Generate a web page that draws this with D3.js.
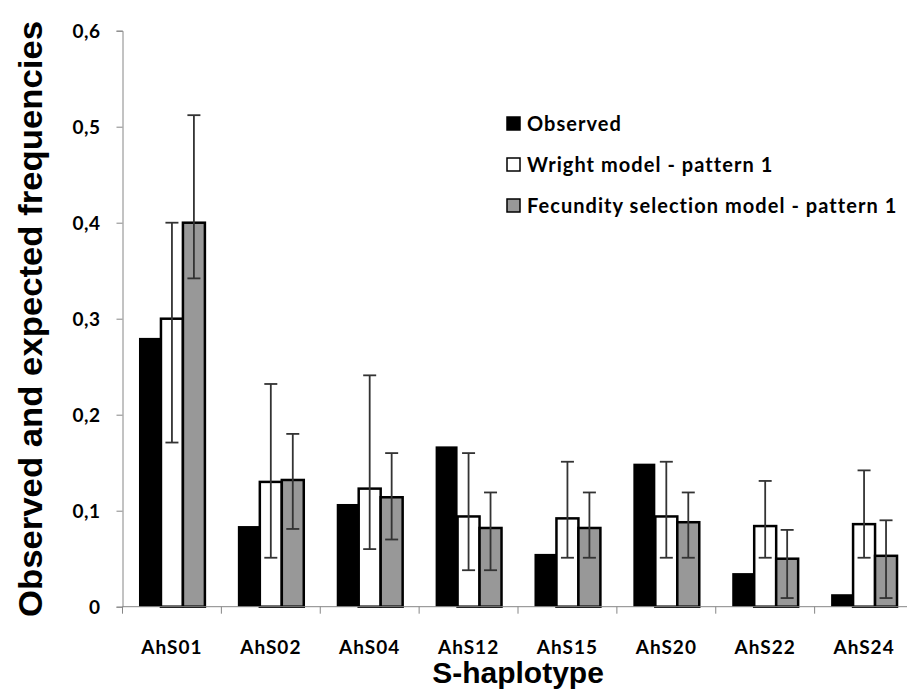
<!DOCTYPE html>
<html>
<head>
<meta charset="utf-8">
<script src="https://cdn.jsdelivr.net/npm/d3@7"></script>
<style>
  body { margin: 0; background: #fff; }
  .tick-label { font-family: Lato, "Open Sans", sans-serif; font-weight: 700; fill: #000; }
  .axis-title { font-family: "Liberation Sans", Arial, sans-serif; font-weight: 700; fill: #000; }
</style>
</head>
<body>
<div id="chart"></div>
<script>
// categories and series
const haplotypes = ['AhS01', 'AhS02', 'AhS04', 'AhS12', 'AhS15', 'AhS20', 'AhS22', 'AhS24'];
const seriesNames = ['Observed', 'Wright model - pattern 1', 'Fecundity selection model - pattern 1'];
const observed = [0.28, 0.084, 0.107, 0.167, 0.055, 0.149, 0.035, 0.013];
const wright = [0.30, 0.13, 0.123, 0.094, 0.092, 0.094, 0.084, 0.086];
const wrightLow = [0.171, 0.051, 0.060, 0.038, 0.051, 0.051, 0.051, 0.051];
const wrightHigh = [0.40, 0.232, 0.241, 0.160, 0.151, 0.151, 0.131, 0.142];
const fecundity = [0.40, 0.132, 0.114, 0.082, 0.082, 0.088, 0.050, 0.053];
const fecundityLow = [0.342, 0.081, 0.070, 0.038, 0.051, 0.051, 0.009, 0.009];
const fecundityHigh = [0.512, 0.180, 0.160, 0.119, 0.119, 0.119, 0.080, 0.090];
const yTicks = [0, 0.1, 0.2, 0.3, 0.4, 0.5, 0.6];

const width = 907, height = 699;
const plotLeft = 122.5, plotRight = 913.5, plotTop = 30.7, plotBottom = 606.7;

const svg = d3.select('#chart').append('svg')
  .attr('width', width)
  .attr('height', height);

// one band per haplotype, bars grouped in the middle two thirds
const x = d3.scaleBand().domain(haplotypes).range([plotLeft, plotRight]).padding(0);
const step = x.bandwidth();
const xInner = d3.scaleBand().domain(seriesNames)
  .range([step / 6, step * 5 / 6]).padding(0);
const y = d3.scaleLinear().domain([0, 0.6]).range([plotBottom, plotTop]);

const fills = ['#000000', '#ffffff', '#989898'];
const strokes = ['none', '#000', '#000'];

// table built from the arrays
const rows = haplotypes.map((h, i) => ({
  h,
  bars: [
    { s: seriesNames[0], v: observed[i] },
    { s: seriesNames[1], v: wright[i], lo: wrightLow[i], hi: wrightHigh[i] },
    { s: seriesNames[2], v: fecundity[i], lo: fecundityLow[i], hi: fecundityHigh[i] }
  ]
}));

// y axis
const yAxis = svg.append('g')
  .attr('transform', `translate(${plotLeft},0)`)
  .call(d3.axisLeft(y).tickValues(yTicks).tickSize(6).tickPadding(16)
    .tickFormat(d => d === 0 ? '0' : d3.format('.1f')(d).replace('.', ',')));
yAxis.select('.domain').attr('stroke', '#868686');
yAxis.selectAll('.tick line').attr('stroke', '#868686');
yAxis.selectAll('.tick text')
  .attr('class', 'tick-label')
  .style('font-size', '19px')
  .style('letter-spacing', '0.5px')
  .attr('dy', '0.35em');

// groups of bars
const groups = svg.append('g').selectAll('g')
  .data(rows)
  .join('g')
  .attr('transform', d => `translate(${x(d.h)},0)`);

groups.selectAll('rect')
  .data(d => d.bars)
  .join('rect')
  .attr('x', d => xInner(d.s))
  .attr('y', d => y(d.v))
  .attr('width', xInner.bandwidth())
  .attr('height', d => y(0) - y(d.v))
  .attr('fill', (d, i) => fills[i])
  .attr('stroke', (d, i) => strokes[i])
  .attr('stroke-width', 2.5);

// error bars
const errs = groups.selectAll('g.err')
  .data(d => d.bars.filter(b => b.lo !== undefined))
  .join('g')
  .attr('class', 'err')
  .attr('stroke', '#333')
  .attr('stroke-width', 1.8);
errs.append('line')
  .attr('x1', d => xInner(d.s) + xInner.bandwidth() / 2)
  .attr('x2', d => xInner(d.s) + xInner.bandwidth() / 2)
  .attr('y1', d => y(d.lo))
  .attr('y2', d => y(d.hi));
['lo', 'hi'].forEach(k => {
  errs.append('line')
    .attr('x1', d => xInner(d.s) + xInner.bandwidth() / 2 - 6.5)
    .attr('x2', d => xInner(d.s) + xInner.bandwidth() / 2 + 6.5)
    .attr('y1', d => y(d[k]))
    .attr('y2', d => y(d[k]));
});

// x axis: baseline, ticks at category boundaries, labels centred
const xAxis = svg.append('g');
xAxis.append('line')
  .attr('x1', plotLeft).attr('x2', width)
  .attr('y1', plotBottom).attr('y2', plotBottom)
  .attr('stroke', '#868686');
xAxis.selectAll('line.bound')
  .data(haplotypes)
  .join('line')
  .attr('class', 'bound')
  .attr('x1', d => x(d)).attr('x2', d => x(d))
  .attr('y1', plotBottom).attr('y2', plotBottom + 7)
  .attr('stroke', '#868686');
xAxis.selectAll('text')
  .data(haplotypes)
  .join('text')
  .attr('class', 'tick-label')
  .attr('x', d => x(d) + step / 2)
  .attr('y', 654)
  .attr('text-anchor', 'middle')
  .style('font-size', '19px')
  .style('letter-spacing', '1px')
  .text(d => d);

// axis titles
svg.append('text')
  .attr('class', 'axis-title')
  .attr('x', (plotLeft + plotRight) / 2)
  .attr('y', 683)
  .attr('text-anchor', 'middle')
  .style('font-size', '30px')
  .text('S-haplotype');

svg.append('text')
  .attr('class', 'axis-title')
  .attr('transform', 'translate(42,319) rotate(-90)')
  .attr('text-anchor', 'middle')
  .attr('textLength', 596)
  .attr('lengthAdjust', 'spacingAndGlyphs')
  .style('font-size', '33px')
  .text('Observed and expected frequencies');

// legend
const legend = svg.append('g').attr('transform', 'translate(507,0)');
const legendY = [124, 165, 206];
seriesNames.forEach((name, i) => {
  legend.append('rect')
    .attr('x', 0).attr('y', legendY[i] - 7)
    .attr('width', 13).attr('height', 13)
    .attr('fill', fills[i])
    .attr('stroke', '#000')
    .attr('stroke-width', 1.5);
  legend.append('text')
    .attr('class', 'tick-label')
    .attr('x', 20)
    .attr('y', legendY[i])
    .attr('dy', '0.35em')
    .style('font-size', '20px')
    .style('letter-spacing', '1.05px')
    .text(name);
});
</script>
</body>
</html>
